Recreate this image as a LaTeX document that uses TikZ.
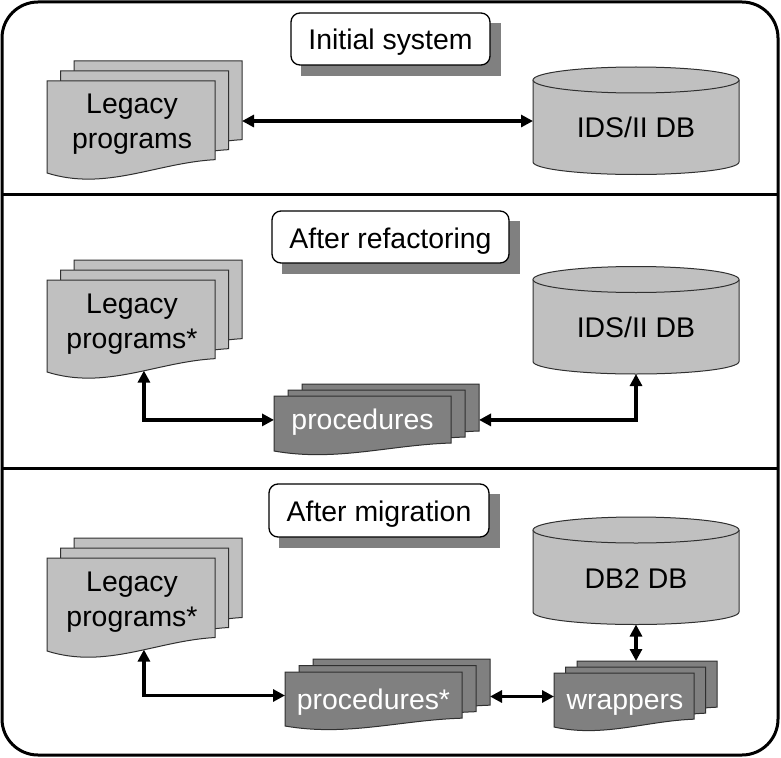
\documentclass[tikz,border=0pt]{standalone}
\usepackage{fontspec}
\setmainfont{Liberation Sans}
\usetikzlibrary{arrows.meta,calc,backgrounds}
\definecolor{lightg}{HTML}{C0C0C0}
\definecolor{darkg}{HTML}{808080}
\definecolor{edgec}{HTML}{303030}
\tikzset{
  docedge/.style={draw=edgec, line width=1pt},
  hitbox/.style={shape=rectangle, inner sep=0pt, outer sep=0pt, draw=none, fill=none},
  lbl/.style={inner sep=0pt, font=\fontsize{28.4}{35}\selectfont},
  titlebox/.style={draw=black, line width=1.3pt, rounded corners=9pt, fill=white, inner sep=0pt,
    text height=22pt, text depth=0pt, font=\fontsize{28.4}{35}\selectfont},
  conn/.style={line width=3.4pt, {Triangle[length=12pt,width=12pt]}-{Triangle[length=12pt,width=12pt]}},
  frame/.style={line width=3pt, draw=black}
}
\newcommand\docpage[5]{%
  \filldraw[docedge, fill=#5] ({#1},{#2}) -- ({#1+#3},{#2}) -- ({#1+#3},{#2+0.855*#4})
    .. controls ({#1+0.65*#3},{#2+0.89*#4}) and ({#1+0.35*#3},{#2+1.2*#4}) .. ({#1},{#2+#4}) -- cycle;}
\newcommand\docstack[8]{%
  \docpage{#2+2*#6}{#3-2*#7}{#4}{#5}{#8}%
  \docpage{#2+#6}{#3-#7}{#4}{#5}{#8}%
  \docpage{#2}{#3}{#4}{#5}{#8}%
  \node[hitbox, minimum width=#4pt, minimum height=0.87*#5pt, anchor=north west] (#1) at ({#2},{#3}) {};%
  \node[hitbox, minimum width=#4pt, minimum height=0.87*#5pt, anchor=north west] (#1-back) at ({#2+2*#6},{#3-2*#7}) {};%
  \coordinate (#1-wave) at ({#2+0.577*#4},{#3+0.985*#5});%
}
\newcommand\dbcyl[3]{%
  \fill[lightg] ({#2-103},{#3}) -- ({#2-103},{#3+82})
     arc[start angle=180, end angle=360, x radius=103pt, y radius=12.5pt] -- ({#2+103},{#3}) -- cycle;
  \draw[docedge] ({#2-103},{#3}) -- ({#2-103},{#3+82})
     arc[start angle=180, end angle=360, x radius=103pt, y radius=12.5pt] -- ({#2+103},{#3});
  \filldraw[docedge, fill=lightg] ({#2},{#3}) ellipse [x radius=103pt, y radius=13pt];
  \node[hitbox, minimum width=206pt, minimum height=94.5pt, anchor=north] (#1) at ({#2},{#3}) {};%
}
\begin{document}
\begin{tikzpicture}[x=1pt, y=-1pt]
\useasboundingbox (0,0) rectangle (781,757);
\begin{scope}[on background layer]
  \fill[white] (0,0) rectangle (781,757);
\end{scope}
% frame
\draw[frame, rounded corners=36pt] (2,2) rectangle (778,755);
\draw[frame] (2,194.5) -- (778,194.5);
\draw[frame] (2,468) -- (778,468);

% titles
\node[titlebox, minimum width=199pt, minimum height=52pt] (t1) at (390.5,39) {Initial system};
\node[titlebox, minimum width=237pt, minimum height=52pt] (t2) at (390.5,237) {After refactoring};
\node[titlebox, minimum width=220pt, minimum height=53pt] (t3) at (379,510.5) {After migration};
\begin{scope}[on background layer]
  \foreach \t in {t1,t2,t3}
    \fill[darkg] ([shift={(10.5,10.5)}]\t.south west) rectangle ([shift={(10.5,10.5)}]\t.north east);
\end{scope}

% section 1
\docstack{leg1}{47}{81}{168}{92}{13.5}{10}{lightg}
\node[lbl, align=center] (leg1-label) at (132,124) {Legacy\\programs};
\dbcyl{db1}{636}{80}
\node[lbl, anchor=base] (db1-label) at (636,138) {IDS/II DB};

% section 2
\docstack{leg2}{47}{280}{168}{92}{13.5}{10}{lightg}
\node[lbl, align=center] (leg2-label) at (132,324.5) {Legacy\\programs*};
\dbcyl{db2}{636}{279.5}
\node[lbl, anchor=base] (db2-label) at (636,337) {IDS/II DB};
\docstack{proc2}{274}{396}{177}{55}{14}{6}{darkg}
\node[lbl, anchor=base, text=white] (proc2-label) at (362.5,429) {procedures};

% section 3
\docstack{leg3}{47}{558}{168}{93}{13.5}{10}{lightg}
\node[lbl, align=center] (leg3-label) at (132,602.5) {Legacy\\programs*};
\dbcyl{db3}{636}{530}
\node[lbl, anchor=base] (db3-label) at (636,588) {DB2 DB};
\docstack{proc3}{285}{672}{177}{54}{14}{6.5}{darkg}
\node[lbl, anchor=base, text=white] (proc3-label) at (373.5,709) {procedures*};
\docstack{wrap3}{554}{673}{140}{54}{11.5}{6}{darkg}
\node[lbl, anchor=base, text=white] (wrap3-label) at (625,709) {wrappers};

% connectors
\draw[conn] (leg1-back.east |- leg1.west) -- (leg1.west -| db1.west);
\draw[conn] (leg2-wave) |- (proc2.west);
\draw[conn] (proc2-back.east |- proc2.west) -| (db2.south);
\draw[conn] (leg3-wave) |- (proc3.west);
\draw[conn] (proc3-back.east |- wrap3.west) -- (wrap3.west);
\draw[conn] (db3.south) -- (db3.south |- wrap3-back.north);
\end{tikzpicture}
\end{document}
